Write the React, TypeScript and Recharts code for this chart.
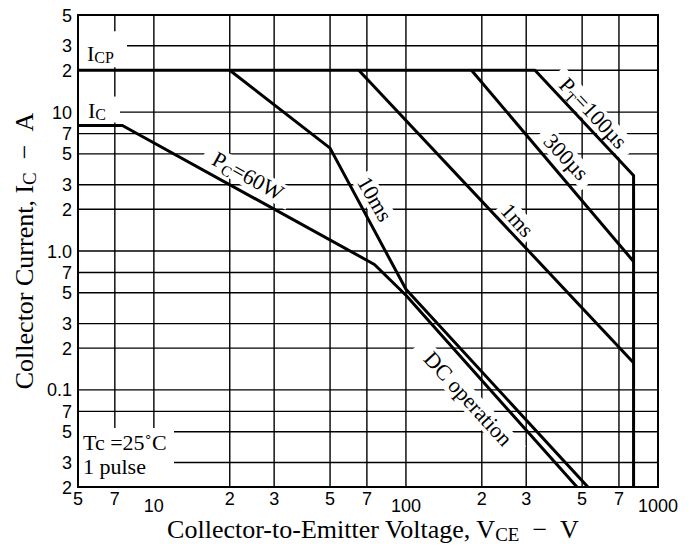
import React from "react";
import {
    LineChart, Line, XAxis, YAxis, CartesianGrid, ReferenceDot, ReferenceArea,
} from "recharts";

// safe operating area curves (V = volts, I = amps)
const pt100usV = [5, 325, 800, 800];
const pt100usI = [20, 20, 3.5, 0.02];
const pt300usV = [182, 800];
const pt300usI = [20, 0.84];
const pt1msV = [65, 800];
const pt1msI = [20, 0.157];
const pt10msV = [20, 50, 100, 527];
const pt10msI = [20, 5.5, 0.53, 0.02];
const dcV = [5, 7.5, 75, 100, 477];
const dcI = [8, 8, 0.8, 0.48, 0.02];

const xTicks = [5, 7, 10, 20, 30, 50, 70, 100, 200, 300, 500, 700, 1000];
const xTickLabels = ["5", "7", "10", "2", "3", "5", "7", "100", "2", "3", "5", "7", "1000"];
const yTicks = [0.02, 0.03, 0.05, 0.07, 0.1, 0.2, 0.3, 0.5, 0.7, 1, 2, 3, 5, 7, 10, 20, 30, 50];
const yTickLabels = ["2", "3", "5", "7", "0.1", "2", "3", "5", "7", "1.0", "2", "3", "5", "7", "10", "2", "3", "5"];

const toPoints = (v: number[], i: number[]) => v.map((x, k) => ({ v: x, i: i[k] }));

const series = [
    { key: "100us", pts: toPoints(pt100usV, pt100usI) },
    { key: "300us", pts: toPoints(pt300usV, pt300usI) },
    { key: "1ms", pts: toPoints(pt1msV, pt1msI) },
    { key: "10ms", pts: toPoints(pt10msV, pt10msI) },
    { key: "dc", pts: toPoints(dcV, dcI) },
];

const serif = "'Liberation Serif', 'Times New Roman', serif";
const sans = "'Liberation Sans', Arial, sans-serif";
const gap = "\u00a0\u00a0−\u00a0\u00a0";

const Sub = ({ t, size = 15, shift = 4 }: { t: string; size?: number; shift?: number }) => (
    <tspan fontSize={size} dy={shift}>{t}</tspan>
);

// labels that sit along the curves (anchor in data units, angle in degrees)
const curveNotes = [
    { id: "pc", v: 23.6, i: 3.45, angle: 29, w: 98, body: <>P<Sub t="C" /><tspan dy={-4}>=60W</tspan></> },
    { id: "10ms", v: 75, i: 2.36, angle: 60, w: 56, body: <>10ms</> },
    { id: "1ms", v: 276, i: 1.66, angle: 48, w: 44, body: <>1ms</> },
    { id: "300us", v: 431, i: 4.73, angle: 47, w: 70, body: <>300µs</> },
    { id: "100us", v: 552, i: 9.8, angle: 47, w: 108, body: <>P<Sub t="T" /><tspan dy={-4}>=100µs</tspan></> },
    { id: "dc", v: 176, i: 0.086, angle: 47.5, w: 148, body: <>DC operation</> },
];

const rotatedNote = (n: any) => (props: any) => {
    const { cx, cy } = props;
    return (
        <g transform={`translate(${cx},${cy}) rotate(${n.angle})`}>
            <rect x={-n.w / 2} y={-11} width={n.w} height={22} fill="#fff" />
            <text x={0} y={7} textAnchor="middle" fontFamily={serif} fontSize={22} fill="#000">{n.body}</text>
        </g>
    );
};

const icpNote = (props: any) => {
    const { cx, cy } = props;
    return (
        <g>
            <rect x={cx + 1} y={cy - 39} width={48} height={36} fill="#fff" />
            <text x={cx + 9} y={cy - 9} fontFamily={serif} fontSize={22} fill="#000">I<Sub t="CP" size={16} shift={2} /></text>
        </g>
    );
};

const icNote = (props: any) => {
    const { cx, cy } = props;
    return (
        <g>
            <rect x={cx + 1} y={cy - 29} width={41} height={26} fill="#fff" />
            <text x={cx + 10} y={cy - 8} fontFamily={serif} fontSize={22} fill="#000">I<Sub t="C" size={16} shift={2} /></text>
        </g>
    );
};

const condNote = (props: any) => {
    const { cx, cy } = props;
    return (
        <g>
            <rect x={cx + 1} y={cy - 59} width={95} height={58} fill="#fff" />
            <text x={cx + 5} y={cy - 37} fontFamily={serif} fontSize={22} fill="#000">Tc =25˚C</text>
            <text x={cx + 5} y={cy - 13} fontFamily={serif} fontSize={22} fill="#000">1 pulse</text>
        </g>
    );
};

const XTick = (props: any) => {
    const { x, y, payload } = props;
    const label = xTickLabels[xTicks.indexOf(payload.value)];
    const decade = label.length > 1;
    return (
        <text x={x} y={y + (decade ? 17 : 10)} textAnchor="middle" fontFamily={sans} fontSize={18} fill="#000">
            {label}
        </text>
    );
};

const YTick = (props: any) => {
    const { x, y, payload } = props;
    const label = yTickLabels[yTicks.indexOf(payload.value)];
    return (
        <text x={x + 2} y={y + 6.5} textAnchor="end" fontFamily={sans} fontSize={18} fill="#000">
            {label}
        </text>
    );
};

const XTitle = (props: any) => {
    const { viewBox } = props;
    return (
        <text x={viewBox.x + viewBox.width / 2 + 5} y={viewBox.y + 51} textAnchor="middle" fontFamily={serif} fontSize={26} fill="#000">
            Collector-to-Emitter Voltage, V<Sub t="CE" size={19} shift={3} /><tspan dy={-3}>{gap + "V"}</tspan>
        </text>
    );
};

const YTitle = (props: any) => {
    const { viewBox } = props;
    const cx = viewBox.x + 15;
    const cy = viewBox.y + viewBox.height / 2;
    return (
        <text transform={`translate(${cx},${cy}) rotate(-90)`} x={0} y={0} textAnchor="middle" fontFamily={serif} fontSize={26} fill="#000">
            Collector Current, I<Sub t="C" size={19} shift={3} /><tspan dy={-3}>{gap + "A"}</tspan>
        </text>
    );
};

export default function App() {
    return (
        <div style={{ position: "absolute", left: 0, top: 0, width: 693, height: 550, background: "#fff" }}>
            <LineChart width={693} height={550} margin={{ top: 15, right: 35, bottom: 23, left: 18 }}>
                <CartesianGrid stroke="#000" strokeWidth={1.4} />
                <XAxis
                    dataKey="v" type="number" scale="log" domain={[5, 1000]} ticks={xTicks} interval={0}
                    allowDataOverflow tick={<XTick />} tickLine={false} axisLine={false} height={40}
                    label={<XTitle />}
                />
                <YAxis
                    dataKey="i" type="number" scale="log" domain={[0.02, 50]} ticks={yTicks} interval={0}
                    allowDataOverflow tick={<YTick />} tickLine={false} axisLine={false} width={60}
                    label={<YTitle />}
                />
                {curveNotes.map((n) => (
                    <ReferenceDot key={n.id} x={n.v} y={n.i} r={1} shape={rotatedNote(n)} ifOverflow="visible" zIndex={50} />
                ))}
                <ReferenceDot x={5} y={20} r={1} shape={icpNote} ifOverflow="visible" zIndex={50} />
                <ReferenceDot x={5} y={8} r={1} shape={icNote} ifOverflow="visible" zIndex={50} />
                <ReferenceDot x={5} y={0.02} r={1} shape={condNote} ifOverflow="visible" zIndex={50} />
                {series.map((s) => (
                    <Line
                        key={s.key} data={s.pts} dataKey="i" type="linear" stroke="#000" strokeWidth={3}
                        dot={false} activeDot={false} isAnimationActive={false} strokeLinejoin="round"
                    />
                ))}
                <ReferenceArea
                    x1={5} x2={1000} y1={0.02} y2={50} fill="none" stroke="#000" strokeWidth={2}
                    fillOpacity={0} ifOverflow="visible" zIndex={450}
                />
            </LineChart>
        </div>
    );
}
